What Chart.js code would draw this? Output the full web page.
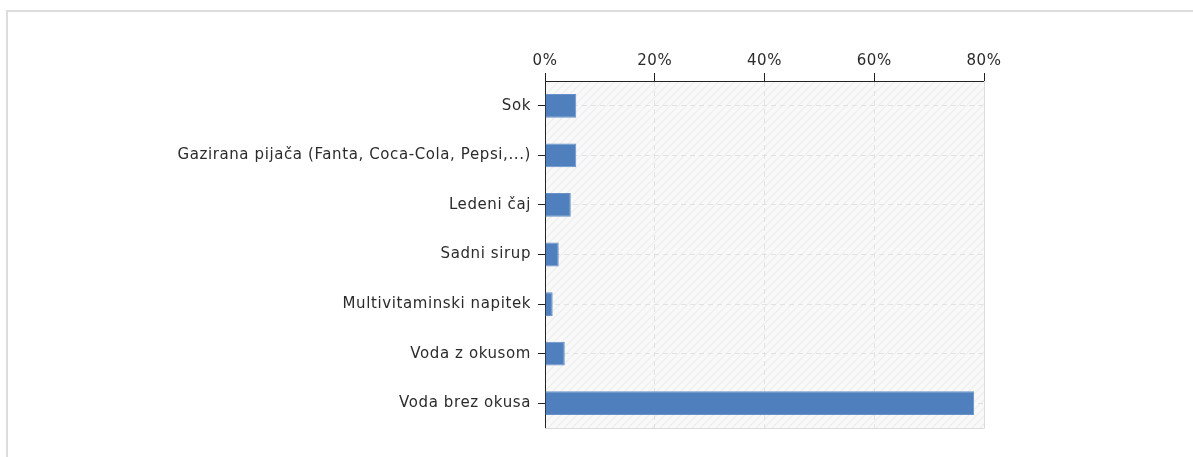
<!DOCTYPE html>
<html>
<head>
<meta charset="utf-8">
<script src="https://cdn.jsdelivr.net/npm/chart.js@4"></script>
<style>
  html, body { margin: 0; padding: 0; background: #fff; overflow: hidden; }
  #frame { position: absolute; left: 6px; top: 10px; width: 1300px; height: 500px; border: 2px solid #dddddd; box-sizing: border-box; }
  #wrap { position: absolute; left: 0; top: 0; width: 1193px; height: 457px; }
</style>
</head>
<body>
<div id="frame"></div>
<div id="wrap"><canvas id="grafico" width="1193" height="457"></canvas></div>
<script>
const kategorije = ['Sok', 'Gazirana pijača (Fanta, Coca-Cola, Pepsi,...)', 'Ledeni čaj', 'Sadni sirup',
  'Multivitaminski napitek', 'Voda z okusom', 'Voda brez okusa'];
const deleži = [5.7, 5.7, 4.7, 2.5, 1.4, 3.6, 78.2];
const oznakeX = [0, 20, 40, 60, 80];

// diagonal hatch for the plot background
const vzorec = document.createElement('canvas');
vzorec.width = 8; vzorec.height = 8;
const pctx = vzorec.getContext('2d');
pctx.fillStyle = '#f9f9f9';
pctx.fillRect(0, 0, 8, 8);
pctx.strokeStyle = '#ededed';
pctx.lineWidth = 1.2;
pctx.beginPath();
pctx.moveTo(-2, 10); pctx.lineTo(10, -2);
pctx.moveTo(-2, 2); pctx.lineTo(2, -2);
pctx.moveTo(6, 10); pctx.lineTo(10, 6);
pctx.stroke();

const ozadje = {
  id: 'ozadje',
  beforeDraw(chart) {
    const { ctx, chartArea: a } = chart;
    ctx.letterSpacing = '0.6px'; // wider text, closer to the original
    ctx.save();
    ctx.fillStyle = ctx.createPattern(vzorec, 'repeat');
    ctx.fillRect(a.left, a.top, a.right - a.left, a.bottom - a.top);
    ctx.restore();
  },
  afterDatasetsDraw(chart) {
    const { ctx, chartArea: a } = chart;
    ctx.save();
    ctx.strokeStyle = '#dcdcdc';
    ctx.lineWidth = 1;
    ctx.beginPath();
    ctx.moveTo(a.right + 0.5, a.top);
    ctx.lineTo(a.right + 0.5, a.bottom + 0.5);
    ctx.lineTo(a.left, a.bottom + 0.5);
    ctx.stroke();
    ctx.restore();
  }
};

const ctx = document.getElementById('grafico').getContext('2d');

new Chart(ctx, {
  type: 'bar',
  data: {
    labels: kategorije,
    datasets: [{
      data: deleži,
      backgroundColor: '#4f80bd',
      borderColor: '#6791c8',
      borderWidth: 1,
      barPercentage: 0.48,
      categoryPercentage: 1
    }]
  },
  options: {
    indexAxis: 'y',
    responsive: false,
    animation: false,
    layout: { padding: { left: 0, right: 209, top: 0, bottom: 29 } },
    plugins: { legend: { display: false }, tooltip: { enabled: false } },
    scales: {
      x: {
        position: 'top',
        min: 0,
        max: 80,
        afterBuildTicks: (scale) => { scale.ticks = oznakeX.map(v => ({ value: v })); },
        afterFit: (scale) => { scale.height = 81; },
        ticks: {
          callback: (v) => v + '%',
          color: '#2b2b2b',
          padding: 3,
          maxRotation: 0,
          font: { family: 'DejaVu Sans', size: 15 }
        },
        grid: { color: '#e2e2e2', tickColor: '#222', tickLength: 8 },
        border: { color: '#222', width: 1, dash: [5, 4] }
      },
      y: {
        afterFit: (scale) => { scale.width = 545; },
        ticks: {
          color: '#2b2b2b',
          padding: 7,
          font: { family: 'DejaVu Sans', size: 15 }
        },
        grid: { offset: false, color: '#e2e2e2', tickColor: '#222', tickLength: 7 },
        border: { color: '#222', width: 1, dash: [5, 4] }
      }
    }
  },
  plugins: [ozadje]
});
</script>
</body>
</html>
